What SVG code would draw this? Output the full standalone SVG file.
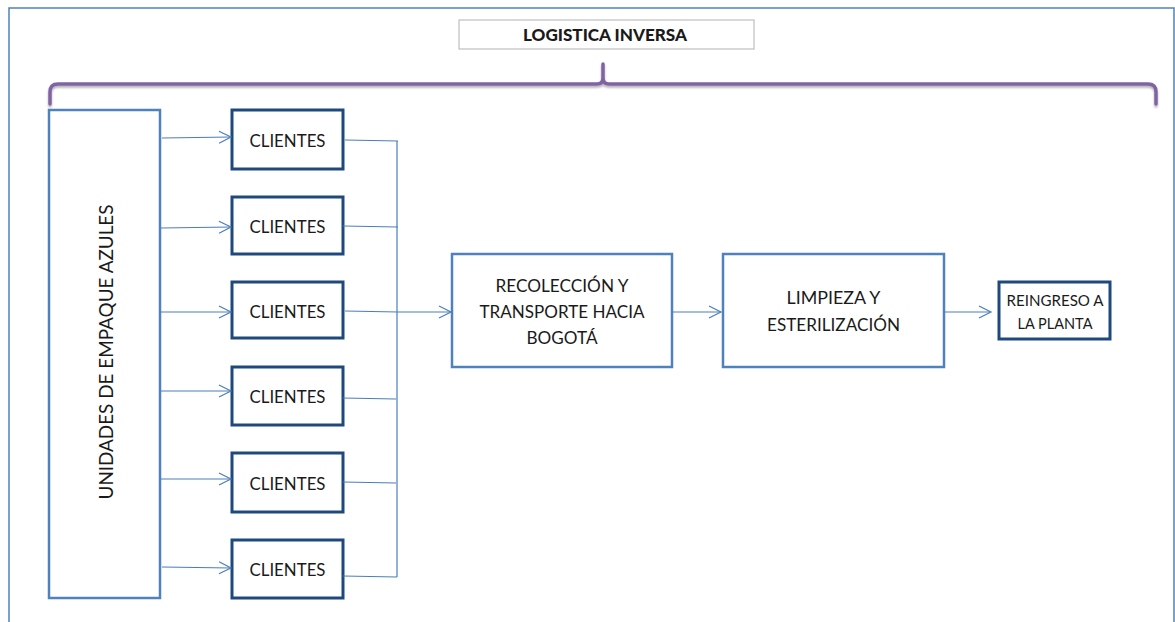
<svg xmlns="http://www.w3.org/2000/svg" width="1175" height="622" viewBox="0 0 1175 622">
  <style>
    .lbl { font-family: Lato, "Open Sans", "Liberation Sans", sans-serif; fill: #1a1a1a; text-anchor: middle; }
    .box-light { fill: #ffffff; stroke: #4F81BD; stroke-width: 2.5; }
    .box-dark { fill: #ffffff; stroke: #1F497D; stroke-width: 3; }
    .conn { fill: none; stroke: #4A7EBB; stroke-width: 1.2; }
    .arrow { fill: none; stroke: #4A7EBB; stroke-width: 1.2; marker-end: url(#openArrow); }
  </style>
  <defs>
    <marker id="openArrow" markerUnits="userSpaceOnUse" markerWidth="16" markerHeight="16" refX="13" refY="7" orient="auto">
      <path d="M1,1 L13,7 L1,13" fill="none" stroke="#4A7EBB" stroke-width="1.2"/>
    </marker>
    <filter id="softShadow" x="-5%" y="-50%" width="110%" height="200%">
      <feDropShadow dx="0" dy="2" stdDeviation="1.2" flood-color="#000000" flood-opacity="0.3"/>
    </filter>
  </defs>

  <rect width="1175" height="622" fill="#ffffff"/>

  <!-- page frame, open at the bottom -->
  <path d="M9,622 V8 H1174 V622" fill="none" stroke="#4F81BD" stroke-width="1.5"/>

  <!-- title -->
  <g id="title">
    <rect x="459" y="20" width="295" height="29" fill="#ffffff" stroke="#BFBFBF" stroke-width="1.2"/>
    <text class="lbl" x="605" y="41" font-size="17" font-weight="900" textLength="164" lengthAdjust="spacingAndGlyphs" fill="#000000">LOGISTICA INVERSA</text>
  </g>

  <!-- brace spanning the process -->
  <g id="brace" filter="url(#softShadow)">
    <path d="M50,104 V92 Q50,84 58,84 H597 Q603,84 603,78 V64 M603,64 V78 Q603,84 609,84 H1148 Q1156,84 1156,92 V104" fill="none" stroke="#8064A2" stroke-width="3.5" stroke-linecap="round" stroke-linejoin="round"/>
  </g>

  <!-- source -->
  <g id="unidades">
    <rect class="box-light" x="49" y="110" width="111" height="488"/>
    <text class="lbl" transform="translate(113,352) rotate(-90)" x="0" y="0" font-size="19" textLength="295" lengthAdjust="spacingAndGlyphs">UNIDADES DE EMPAQUE AZULES</text>
  </g>

  <!-- clients -->
  <g id="cliente1">
    <rect class="box-dark" x="232" y="110" width="111" height="59"/>
    <text class="lbl" x="287.5" y="147" font-size="18" textLength="76" lengthAdjust="spacingAndGlyphs">CLIENTES</text>
  </g>
  <g id="cliente2">
    <rect class="box-dark" x="232" y="197" width="111" height="57"/>
    <text class="lbl" x="287.5" y="233" font-size="18" textLength="76" lengthAdjust="spacingAndGlyphs">CLIENTES</text>
  </g>
  <g id="cliente3">
    <rect class="box-dark" x="232" y="282" width="111" height="56"/>
    <text class="lbl" x="287.5" y="318" font-size="18" textLength="76" lengthAdjust="spacingAndGlyphs">CLIENTES</text>
  </g>
  <g id="cliente4">
    <rect class="box-dark" x="232" y="367" width="111" height="58"/>
    <text class="lbl" x="287.5" y="403" font-size="18" textLength="76" lengthAdjust="spacingAndGlyphs">CLIENTES</text>
  </g>
  <g id="cliente5">
    <rect class="box-dark" x="232" y="453" width="111" height="59"/>
    <text class="lbl" x="287.5" y="490" font-size="18" textLength="76" lengthAdjust="spacingAndGlyphs">CLIENTES</text>
  </g>
  <g id="cliente6">
    <rect class="box-dark" x="232" y="540" width="111" height="58"/>
    <text class="lbl" x="287.5" y="576" font-size="18" textLength="76" lengthAdjust="spacingAndGlyphs">CLIENTES</text>
  </g>

  <!-- process steps -->
  <g id="recoleccion">
    <rect class="box-light" x="452" y="254" width="220" height="113"/>
    <text class="lbl" x="562" y="292" font-size="18" textLength="133" lengthAdjust="spacingAndGlyphs">RECOLECCIÓN Y</text>
    <text class="lbl" x="562" y="318" font-size="18" textLength="165" lengthAdjust="spacingAndGlyphs">TRANSPORTE HACIA</text>
    <text class="lbl" x="562" y="344" font-size="18" textLength="71" lengthAdjust="spacingAndGlyphs">BOGOTÁ</text>
  </g>
  <g id="limpieza">
    <rect class="box-light" x="723" y="254" width="221" height="113"/>
    <text class="lbl" x="833.5" y="304" font-size="18" textLength="94" lengthAdjust="spacingAndGlyphs">LIMPIEZA Y</text>
    <text class="lbl" x="833.5" y="331" font-size="18" textLength="133" lengthAdjust="spacingAndGlyphs">ESTERILIZACIÓN</text>
  </g>
  <g id="reingreso">
    <rect class="box-dark" x="999" y="282" width="111" height="57"/>
    <text class="lbl" x="1055" y="306" font-size="15" textLength="97" lengthAdjust="spacingAndGlyphs">REINGRESO A</text>
    <text class="lbl" x="1055" y="329" font-size="15" textLength="75" lengthAdjust="spacingAndGlyphs">LA PLANTA</text>
  </g>

  <!-- connectors -->
  <g id="connectors">
    <line class="arrow" x1="162" y1="138" x2="231" y2="137"/>
    <line class="arrow" x1="161" y1="228" x2="231" y2="227"/>
    <line class="arrow" x1="161" y1="312" x2="231" y2="312"/>
    <line class="arrow" x1="161" y1="391" x2="231" y2="391"/>
    <line class="arrow" x1="161" y1="479" x2="231" y2="479"/>
    <line class="arrow" x1="162" y1="567" x2="231" y2="568"/>

    <line class="conn" x1="345" y1="140" x2="398" y2="141"/>
    <line class="conn" x1="343" y1="226" x2="398" y2="227"/>
    <line class="conn" x1="345" y1="311" x2="398" y2="312"/>
    <line class="conn" x1="343" y1="398" x2="396" y2="399"/>
    <line class="conn" x1="343" y1="482" x2="396" y2="483"/>
    <line class="conn" x1="343" y1="576" x2="397" y2="577"/>
    <line class="conn" x1="397" y1="141" x2="397" y2="577"/>

    <line class="arrow" x1="398" y1="312" x2="451" y2="312"/>
    <line class="arrow" x1="673" y1="312" x2="721" y2="312"/>
    <line class="arrow" x1="945" y1="312" x2="991" y2="312"/>
  </g>
</svg>
